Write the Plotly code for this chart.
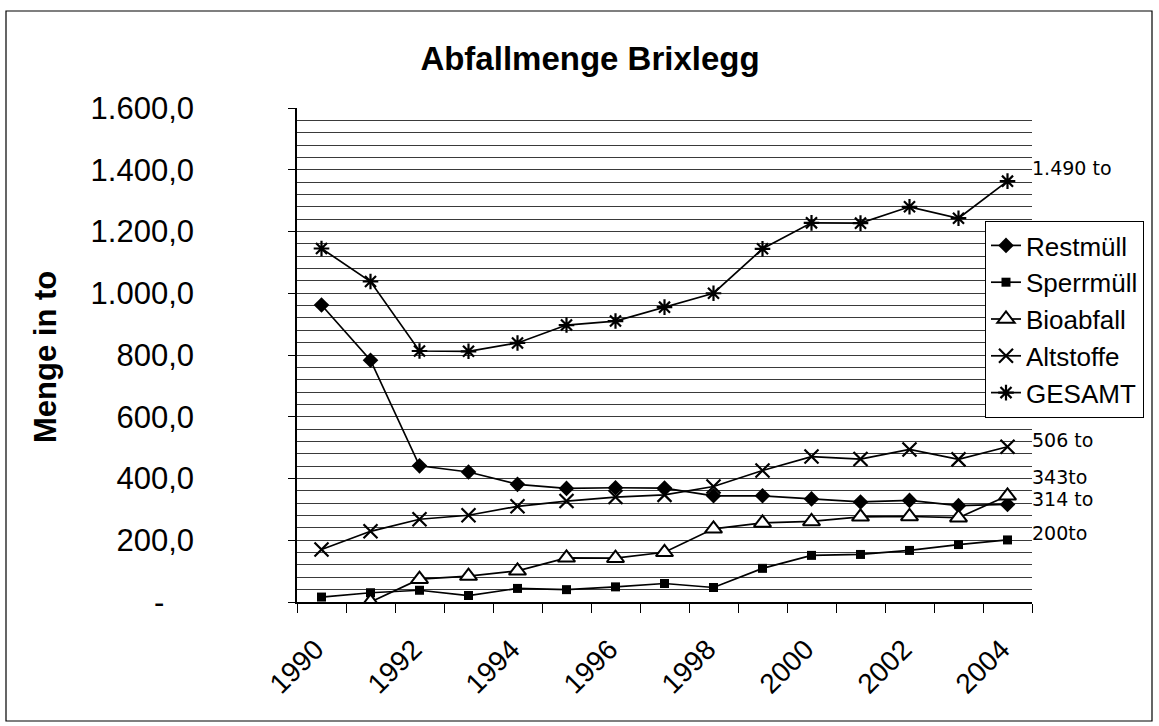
import plotly.graph_objects as go

years = list(range(1990, 2005))
restmuell = [962, 783, 441, 421, 381, 368, 370, 369, 344, 344, 334, 324, 329, 312, 316]
sperrmuell = [16, 30, 38, 21, 44, 40, 49, 60, 47, 109, 151, 154, 167, 186, 201]
bioabfall = [None, 0, 74, 84, 101, 143, 142, 161, 237, 256, 261, 276, 277, 273, 344]
altstoffe = [170, 229, 268, 281, 310, 327, 340, 347, 374, 426, 471, 463, 494, 462, 503]
gesamt = [1145, 1038, 813, 812, 839, 897, 910, 955, 1000, 1144, 1228, 1227, 1280, 1243, 1363]

x_labels = ["1990", "1992", "1994", "1996", "1998", "2000", "2002", "2004"]
x_label_vals = [1990, 1992, 1994, 1996, 1998, 2000, 2002, 2004]
y_tick_vals = [0, 200, 400, 600, 800, 1000, 1200, 1400, 1600]
y_tick_text = ["", "200,0", "400,0", "600,0", "800,0", "1.000,0", "1.200,0", "1.400,0", "1.600,0"]
minor_grid = list(range(40, 1600, 40))
boundaries = [y - 0.5 for y in years] + [2004.5]

end_notes = ["1.490 to", "506 to", "343to", "314 to", "200to"]

FONT = "Liberation Sans, Arial, sans-serif"
W, H = 1159, 726
L, R, T, B = 297, 1032, 108, 602

fig = go.Figure()

def add(name, y, symbol, size, fill="black", lw=0):
    fig.add_trace(go.Scatter(
        x=years, y=y, name=name, mode="lines+markers",
        line=dict(color="black", width=1.7),
        marker=dict(symbol=symbol, size=size, color=fill,
                    line=dict(color="black", width=lw)),
        connectgaps=False,
    ))

add("Restmüll", restmuell, "diamond", 12)
add("Sperrmüll", sperrmuell, "square", 9)
add("Bioabfall", bioabfall, "triangle-up", 15, fill="white", lw=2)
add("Altstoffe", altstoffe, "x-thin-open", 14, lw=2.2)
add("GESAMT", gesamt, "asterisk-open", 13, lw=2.2)

def px_x(p):
    return (p - L) / (R - L)

def px_y(p):
    return (B - p) / (B - T)

fig.update_layout(
    width=W, height=H,
    margin=dict(l=L, r=W - R, t=T, b=H - B),
    paper_bgcolor="white", plot_bgcolor="white",
    font=dict(family=FONT, color="black"),
    title=dict(text="<b>Abfallmenge Brixlegg</b>", x=590 / W, xanchor="center",
               y=1 - 58 / H, yanchor="middle",
               font=dict(size=33, family=FONT, color="black")),
    showlegend=True,
    legend=dict(x=px_x(985), y=px_y(221), xanchor="left", yanchor="top",
                bgcolor="white", bordercolor="black", borderwidth=1,
                font=dict(size=26, family=FONT, color="black"),
                itemwidth=30, tracegroupgap=0),
    xaxis=dict(
        range=[1989.5, 2004.5], showgrid=False, zeroline=False,
        showline=True, linecolor="black", linewidth=1.5,
        tickmode="array", tickvals=x_label_vals, ticktext=x_labels,
        ticks="", tickangle=-45, tickfont=dict(size=28, family=FONT, color="black"),
        ticklabelstandoff=18, ticklabelshift=-6,
        minor=dict(tickmode="array", tickvals=boundaries, ticks="outside",
                   ticklen=9, tickcolor="black", tickwidth=1, showgrid=False),
    ),
    yaxis=dict(
        range=[0, 1600], showgrid=False, zeroline=False,
        showline=True, linecolor="black", linewidth=1.5,
        tickmode="array", tickvals=y_tick_vals, ticktext=y_tick_text,
        ticks="outside", ticklen=7, tickcolor="black",
        tickfont=dict(size=31, family=FONT, color="black"),
        ticklabelstandoff=88,
        minor=dict(tickmode="array", tickvals=minor_grid, ticks="",
                   showgrid=True, gridcolor="#3a3a3a", gridwidth=1),
    ),
)

# y axis title
fig.add_annotation(text="<b>Menge in to</b>", textangle=-90, x=px_x(45), y=px_y(357),
                   xref="paper", yref="paper", xanchor="center", yanchor="middle",
                   showarrow=False, font=dict(size=31, family=FONT, color="black"))
# dash label for zero
fig.add_annotation(text="-", x=px_x(159), y=0, xref="paper", yref="y",
                   xanchor="center", yanchor="middle",
                   showarrow=False, font=dict(size=31, family=FONT, color="black"))

# handwritten end notes
note_y_px = [168, 440, 477, 499, 533]
for txt, yp in zip(end_notes, note_y_px):
    fig.add_annotation(text=txt, x=px_x(1030), y=px_y(yp), xref="paper", yref="paper",
                       xanchor="left", yanchor="middle", showarrow=False,
                       font=dict(size=19, family="DejaVu Sans, sans-serif", color="black"))

# outer frame
fig.add_shape(type="rect", xref="paper", yref="paper",
              x0=px_x(6), x1=px_x(1152), y0=px_y(721), y1=px_y(11),
              line=dict(color="black", width=1.2), layer="below")

fig.write_html("out.html", config={"displayModeBar": False},
               post_script="document.body.style.margin='0';document.body.style.overflow='hidden';")
